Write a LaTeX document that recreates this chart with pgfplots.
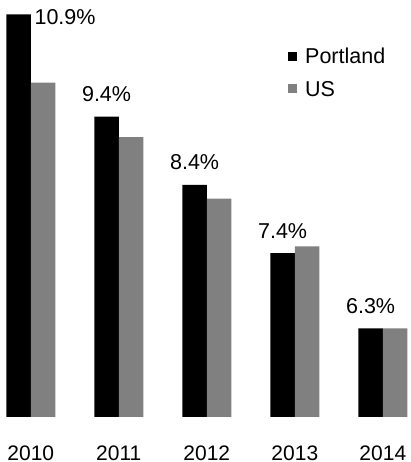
\documentclass[border=0pt]{standalone}
\usepackage{pgfplots}
\pgfplotsset{compat=1.18}
\usepackage{fontspec}
\setmainfont{Liberation Sans}
\definecolor{usgray}{RGB}{128,128,128}
\newcommand{\chartfont}{\fontsize{21.5}{25}\selectfont}
\begin{document}
\begin{tikzpicture}
\begin{axis}[
  scale only axis,
  width=411pt, height=417pt,
  xmin=-0.35, xmax=4.32,
  ymin=5, ymax=11.11,
  clip=false,
  axis line style={draw=none},
  tick style={draw=none},
  ytick=\empty,
  xtick={0,1,2,3,4},
  xticklabels={2010,2011,2012,2013,2014},
  xticklabel style={anchor=base, yshift=-39pt, inner sep=0pt, font=\fontsize{21}{25}\selectfont},
  ybar=0pt, bar width=24.5pt,
  /pgf/number format/assume math mode=true,
  legend style={draw=none, fill=none, at={(rel axis cs:0.7007,0.885)}, anchor=north west,
    cells={anchor=base west}, nodes={inner sep=0pt}, row sep=16pt, inner sep=0pt,
    font=\chartfont},
]
\addplot[fill=black, draw=none,
  legend image code/.code={\fill[black] (0pt,3pt) rectangle (9pt,12pt); \path (17pt,0pt);},
  nodes near coords={\pgfmathprintnumber[fixed,precision=1,fixed zerofill]{\pgfplotspointmeta}\%},
  every node near coord/.append style={anchor=base, yshift=15pt, inner sep=0pt, font=\chartfont},
  coordinate style/.condition={x==0}{xshift=46.5pt, yshift=-25pt},
] coordinates {(0,10.9) (1,9.4) (2,8.4) (3,7.4) (4,6.3)};
\addlegendentry{Portland}
\addplot[fill=usgray, draw=none,
  legend image code/.code={\fill[usgray] (0pt,3pt) rectangle (9pt,12pt); \path (17pt,0pt);},
] coordinates {(0,9.9) (1,9.1) (2,8.2) (3,7.5) (4,6.3)};
\addlegendentry{US}
\end{axis}
\pgfresetboundingbox
\path (0,-45pt) rectangle (411pt,417pt);
\end{tikzpicture}
\end{document}
